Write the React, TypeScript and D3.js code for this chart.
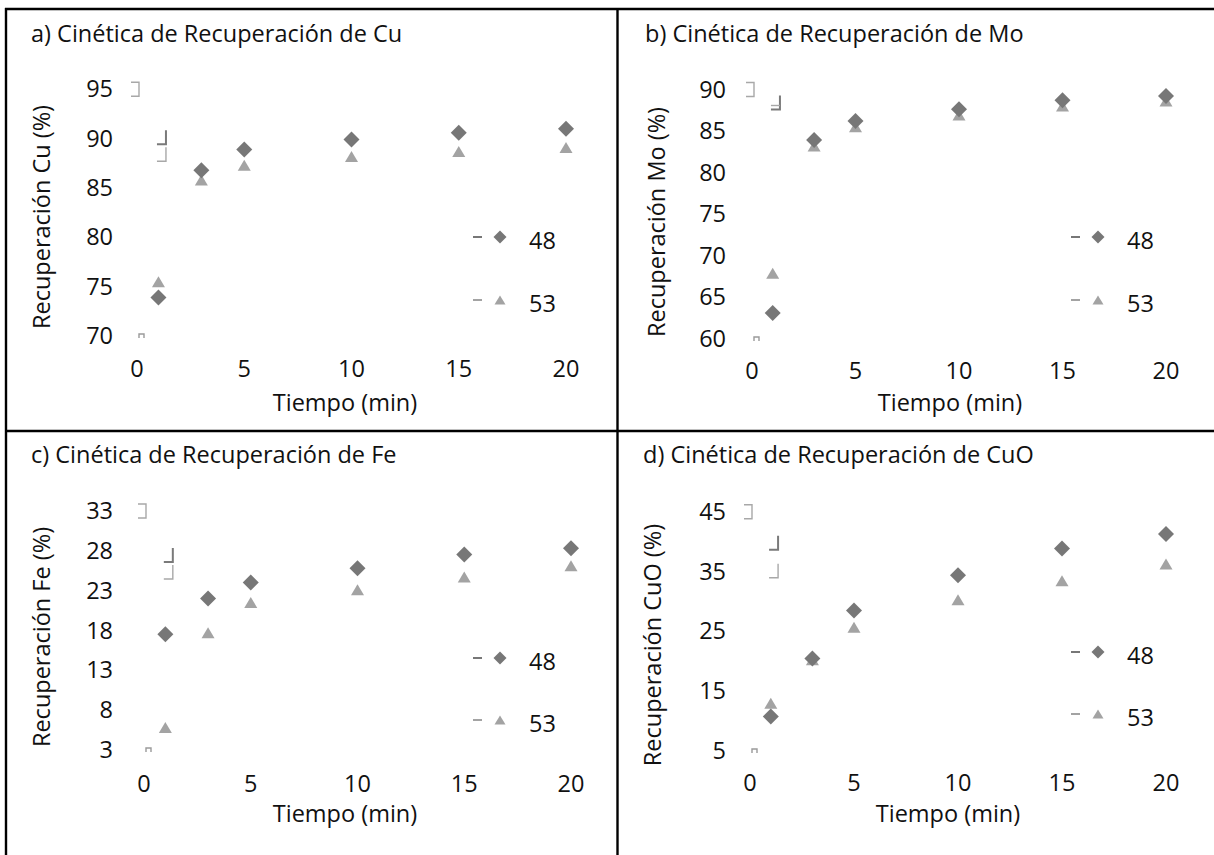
import React from 'react';
import * as d3 from 'd3';

// tiempo de flotación (min)
const tiempo = [1, 3, 5, 10, 15, 20];
const xTicks = [0, 5, 10, 15, 20];
const series = ['48', '53'];

// recuperaciones (%)
const cu48 = [73.8, 86.7, 88.8, 89.8, 90.5, 90.9];
const cu53 = [75.4, 85.7, 87.2, 88.1, 88.6, 89.0];
const mo48 = [63.0, 83.8, 86.1, 87.5, 88.6, 89.1];
const mo53 = [67.8, 83.1, 85.4, 86.8, 87.9, 88.5];
const fe48 = [17.4, 21.9, 23.9, 25.7, 27.4, 28.2];
const fe53 = [5.7, 17.6, 21.4, 23.0, 24.6, 26.0];
const cuo48 = [10.6, 20.3, 28.3, 34.2, 38.7, 41.1];
const cuo53 = [12.8, 20.1, 25.5, 30.1, 33.3, 36.1];

const cuTicks = [70, 75, 80, 85, 90, 95];
const moTicks = [60, 65, 70, 75, 80, 85, 90];
const feTicks = [3, 8, 13, 18, 23, 28, 33];
const cuoTicks = [5, 15, 25, 35, 45];

const FONT = '"Open Sans", Lato, sans-serif';
const C48 = '#777777';
const C53 = '#a3a3a3';

const panels = [
  {
    title: 'a) Cinética de Recuperación de Cu', ylabel: 'Recuperación Cu (%)',
    d48: cu48, d53: cu53, ticks: cuTicks,
    xr: [137, 566], yr: [335, 88.3], labX: 113, tickY: 368,
    tx: 31, ty: 41.5, xlx: 345, xly: 402, ylx: 41, yly: 217,
    lgX: 478, lgY: [237, 300], marks: [42, 59], dbl: false,
  },
  {
    title: 'b) Cinética de Recuperación de Mo', ylabel: 'Recuperación Mo (%)',
    d48: mo48, d53: mo53, ticks: moTicks,
    xr: [752, 1166], yr: [338, 88.5], labX: 726, tickY: 370,
    tx: 645, ty: 41.5, xlx: 950, xly: 402, ylx: 656, yly: 222,
    lgX: 1076, lgY: [237, 300], marks: [7], dbl: true,
  },
  {
    title: 'c) Cinética de Recuperación de Fe', ylabel: 'Recuperación Fe (%)',
    d48: fe48, d53: fe53, ticks: feTicks,
    xr: [144, 571], yr: [749, 510], labX: 113, tickY: 783,
    tx: 31, ty: 462.5, xlx: 345, xly: 813, ylx: 41, yly: 637,
    lgX: 478, lgY: [658, 720], marks: [38, 55], dbl: false,
  },
  {
    title: 'd) Cinética de Recuperación de CuO', ylabel: 'Recuperación CuO (%)',
    d48: cuo48, d53: cuo53, ticks: cuoTicks,
    xr: [750, 1166], yr: [750, 510.7], labX: 726, tickY: 782,
    tx: 643, ty: 462.5, xlx: 948, xly: 813, ylx: 652, yly: 645,
    lgX: 1076, lgY: [652, 714], marks: [25, 53], dbl: false,
  },
];

const diamond = (r) => `M0,${-r}L${r},0L0,${r}L${-r},0Z`;
const triangle = (w, h) => `M0,${-h / 2}L${w / 2},${h / 2}L${-w / 2},${h / 2}Z`;

function Panel({ p }) {
  const x = d3.scaleLinear().domain([0, 20]).range(p.xr);
  const [lo, hi] = d3.extent(p.ticks);
  const y = d3.scaleLinear().domain([lo, hi]).range(p.yr);
  const txt = { fontFamily: FONT, fontSize: 23.5, fill: '#111' };
  // restos grises del gráfico original cerca del eje
  const x0 = x(0);
  const yTop = y(hi);
  const yBot = y(lo);
  const xm = x(1.35);
  return (
    <g>
      <text x={p.tx} y={p.ty} style={txt}>{p.title}</text>
      {p.ticks.map((t) => (
        <text key={t} x={p.labX} y={y(t)} textAnchor="end" dominantBaseline="central" style={txt}>{t}</text>
      ))}
      {xTicks.map((t) => (
        <text key={t} x={x(t)} y={p.tickY} textAnchor="middle" dominantBaseline="central" style={txt}>{t}</text>
      ))}
      <text x={p.xlx} y={p.xly} textAnchor="middle" dominantBaseline="central" style={txt}>Tiempo (min)</text>
      <text transform={`translate(${p.ylx},${p.yly}) rotate(-90)`} textAnchor="middle" dominantBaseline="central" style={txt}>{p.ylabel}</text>

      <g fill="none">
        <path d={`M${x0 - 6},${yTop - 6}h8v14h-8`} stroke="#a8a8a8" strokeWidth={1.4} />
        <path d={`M${x0 + 2},${yBot + 3}v-4h5v4`} stroke="#9a9a9a" strokeWidth={1.4} />
        {p.marks.map((m, i) => (
          <path key={m} d={`M${xm},${yTop + m}v14h-9`} stroke={i === 0 ? '#7a7a7a' : '#a8a8a8'} strokeWidth={i === 0 ? 2 : 1.4} />
        ))}
        {p.dbl && <path d={`M${xm},${yTop + p.marks[0] + 10}h-9`} stroke="#a8a8a8" strokeWidth={1.4} />}
      </g>

      {tiempo.map((t, i) => (
        <path key={'b' + t} d={triangle(13, 11)} transform={`translate(${x(t)},${y(p.d53[i])})`} fill={C53} />
      ))}
      {tiempo.map((t, i) => (
        <path key={'a' + t} d={diamond(8)} transform={`translate(${x(t)},${y(p.d48[i])})`} fill={C48} />
      ))}

      {series.map((s, i) => (
        <g key={s} transform={`translate(${p.lgX},${p.lgY[i]})`}>
          <line x1={-5} x2={4} y1={0} y2={0} stroke={i === 0 ? C48 : C53} strokeWidth={2} />
          <path d={i === 0 ? diamond(6.5) : triangle(11, 9)} transform="translate(22,0)" fill={i === 0 ? C48 : C53} />
          <text x={51} y={3} dominantBaseline="central" style={txt}>{s}</text>
        </g>
      ))}
    </g>
  );
}

export default function App() {
  return (
    <div style={{ position: 'absolute', left: 0, top: 0 }}>
      <svg width={1214} height={855} style={{ display: 'block', background: '#fff' }}>
        <g stroke="#000" strokeWidth={2.4}>
          <line x1={5} x2={1214} y1={9} y2={9} />
          <line x1={6} x2={6} y1={8} y2={855} />
          <line x1={617.5} x2={617.5} y1={8} y2={855} />
          <line x1={5} x2={1214} y1={431} y2={431} />
        </g>
        {panels.map((p) => <Panel key={p.title} p={p} />)}
      </svg>
    </div>
  );
}
